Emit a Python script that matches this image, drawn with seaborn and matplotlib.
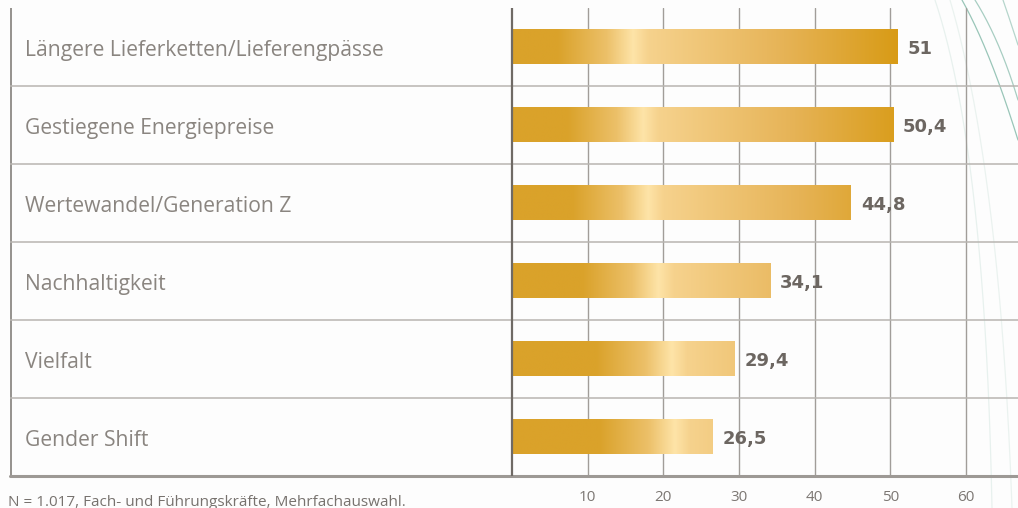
import numpy as np
import pandas as pd
import matplotlib
matplotlib.use("Agg")
import matplotlib.pyplot as plt
from matplotlib.colors import to_rgb
import seaborn as sns

# --- data -------------------------------------------------------------
categories = [
    "Längere Lieferketten/Lieferengpässe",
    "Gestiegene Energiepreise",
    "Wertewandel/Generation Z",
    "Nachhaltigkeit",
    "Vielfalt",
    "Gender Shift",
]
values = [51.0, 50.4, 44.8, 34.1, 29.4, 26.5]
tick_values = [10, 20, 30, 40, 50, 60]
footnote = "N = 1.017, Fach- und Führungskräfte, Mehrfachauswahl."

# position of the bright highlight inside each golden bar (x units)
highlight_x = [16.0, 17.3, 18.0, 19.3, 21.1, 21.5]

df = pd.DataFrame({"Kategorie": categories, "Wert": values})

# --- style ------------------------------------------------------------
sns.set_theme(style="white")
plt.rcParams["font.family"] = ["Open Sans", "DejaVu Sans"]

BG = "#fdfdfd"
LABEL_C = "#8a8580"
VALUE_C = "#6c6661"
TICK_C = "#7c7773"

W, H, DPI = 1018, 508, 100
fig = plt.figure(figsize=(W / DPI, H / DPI), dpi=DPI, facecolor=BG)

# decorative contour lines in the background
bg = fig.add_axes([0, 0, 1, 1], zorder=0)
bg.set_xlim(0, W)
bg.set_ylim(H, 0)
bg.axis("off")
t = np.linspace(0, 1, 200)


def bezier(p0, p1, p2):
    p0, p1, p2 = map(np.array, (p0, p1, p2))
    pts = ((1 - t) ** 2)[:, None] * p0 + (2 * (1 - t) * t)[:, None] * p1 + (t ** 2)[:, None] * p2
    return pts[:, 0], pts[:, 1]


for (p0, p1, p2, col, a) in [
    ((962, 0), (990, 50), (1018, 140), "#6fae9b", 0.7),
    ((975, 0), (1000, 40), (1018, 100), "#6fae9b", 0.6),
    ((1003, 0), (1010, 20), (1018, 45), "#6fae9b", 0.5),
    ((935, 0), (985, 150), (992, 508), "#dfece8", 0.7),
    ((950, 0), (1000, 170), (1012, 508), "#e3eeea", 0.7),
]:
    xs, ys = bezier(p0, p1, p2)
    bg.plot(xs, ys, color=col, alpha=a, lw=0.9)

# main axes: x = 0 sits at pixel 512, 10 units = 75.67 px
px_per_unit = 454 / 60
x_left = -(512 - 10) / px_per_unit
x_right = (W - 512) / px_per_unit
ax = fig.add_axes([10 / W, (H - 476) / H, (W - 10) / W, 468 / H], zorder=1)
ax.patch.set_alpha(0)

sns.barplot(data=df, x="Wert", y="Kategorie", orient="h", ax=ax,
            width=0.44, color="#DDA52A", edgecolor="none", zorder=3)

ax.set_xlim(x_left, x_right)
ax.set_ylim(len(categories) - 0.5, -0.5)

# golden gradient fill for each bar
dark_l = np.array(to_rgb("#DAA22A"))
mid_l = np.array(to_rgb("#ECC069"))
peak = np.array(to_rgb("#FEE4A8"))
near = np.array(to_rgb("#F6D28D"))
mid_r = np.array(to_rgb("#E6B356"))
dark_r = np.array(to_rgb("#D89B16"))


def gold(x, p):
    stops = [p - 10, p - 3.5, p, p + 2, p + 20, p + 35]
    cols = [dark_l, mid_l, peak, near, mid_r, dark_r]
    out = np.empty((len(x), 3))
    for c in range(3):
        out[:, c] = np.interp(x, stops, [col[c] for col in cols])
    return out


for bar, v, p in zip(ax.patches, values, highlight_x):
    y0 = bar.get_y()
    h = bar.get_height()
    xs = np.linspace(0, v, 600)
    img = gold(xs, p)[None, :, :]
    ax.imshow(img, extent=[0, v, y0 + h, y0], aspect="auto",
              interpolation="bilinear", zorder=3)
    bar.set_facecolor("none")
    ax.annotate(f"{v:g}".replace(".", ","), xy=(v, y0 + h / 2 + 0.03),
                xytext=(7, 0), textcoords="offset points",
                ha="left", va="center", fontsize=13, fontweight="bold",
                family="DejaVu Sans", color=VALUE_C, zorder=5)

# grid: vertical lines
for tv in tick_values:
    ax.axvline(tv, color="#a19d99", lw=1.0, zorder=1)
ax.axvline(0, color="#6f6a65", lw=1.6, zorder=4)
ax.axvline(x_left + 0.1, color="#8d8985", lw=1.3, zorder=1)

# row separators and bottom rule
for i in range(len(categories) - 1):
    ax.axhline(i + 0.5, color="#b8b5b1", lw=1.1, zorder=1)
ax.axhline(len(categories) - 0.5, color="#9d9995", lw=2.2, zorder=2, clip_on=False)

# category labels inside the table
for i, cat in enumerate(categories):
    ax.text(x_left + 15 / px_per_unit, i + 0.05, cat, ha="left", va="center",
            fontsize=15.2, color=LABEL_C)

ax.set_xticks(tick_values)
ax.set_xticklabels([str(v) for v in tick_values])
ax.tick_params(axis="x", length=0, pad=10, labelsize=11, labelcolor=TICK_C)
ax.set_yticks([])
ax.set_xlabel("")
ax.set_ylabel("")
for s in ax.spines.values():
    s.set_visible(False)

fig.text(8 / W, 1 - 495 / H, footnote, ha="left", va="top",
         fontsize=11, color="#77726e")

fig.savefig("out.png", dpi=DPI, facecolor=BG)
